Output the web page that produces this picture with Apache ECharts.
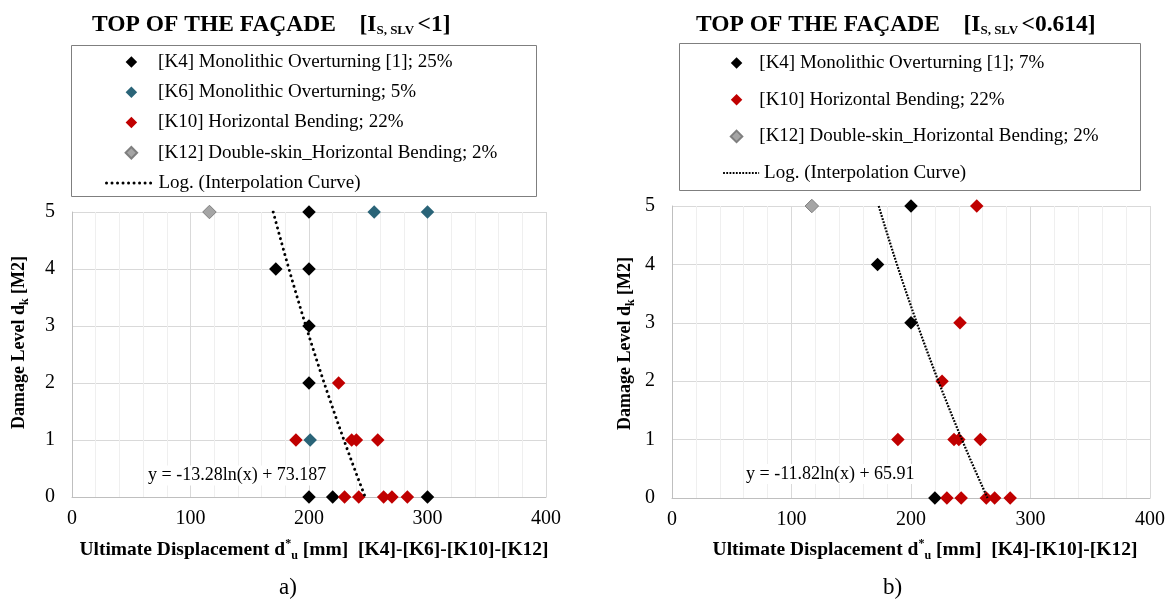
<!DOCTYPE html>
<html><head><meta charset="utf-8">
<script src="https://cdn.jsdelivr.net/npm/echarts@6/dist/echarts.min.js"></script>
<style>html,body{margin:0;padding:0;background:#fff}#c{width:1168px;height:603px}</style>
</head><body><div id="c"></div>
<script>
// ---------- DATA ----------
const xTicks = [0, 100, 200, 300, 400];
const yTicks = [0, 1, 2, 3, 4, 5];

// chart a)  [x = ultimate displacement mm, y = damage level]
const aK4  = [[200,5],[172,4],[200,4],[200,3],[200,2],[200,0],[220,0],[300,0]];
const aK6  = [[255,5],[300,5],[201,1]];
const aK10 = [[225,2],[189,1],[236,1],[240,1],[258,1],[230,0],[242,0],[263,0],[270,0],[283,0]];
const aK12 = [[116,5]];
const aTrendCoef = [-13.28, 73.187];   // y = a ln(x) + b

// chart b)
const bK4  = [[200,5],[172,4],[200,3],[220,0]];
const bK10 = [[255,5],[241,3],[226,2],[189,1],[236,1],[240,1],[258,1],[230,0],[242,0],[263,0],[270,0],[283,0]];
const bK12 = [[117,5]];
const bTrendCoef = [-11.82, 65.91];

const nK4a  = '[K4] Monolithic Overturning [1]; 25%';
const nK6a  = '[K6] Monolithic Overturning; 5%';
const nK10  = '[K10] Horizontal Bending; 22%';
const nK12  = '[K12] Double-skin_Horizontal Bending; 2%';
const nK4b  = '[K4] Monolithic Overturning [1]; 7%';
const nTrendA = 'Log. (Interpolation Curve)';
const nTrendB = 'Log. (Interpolation Curve) ';

// ---------- HELPERS ----------
const FONT = '"Liberation Serif","Times New Roman",serif';
const C_K4 = '#000000', C_K6 = '#2a6478', C_K10 = '#c00000', C_K12 = '#a5a5a5';

function trendPoints(coef) {
  const [a, b] = coef;
  const yMin = yTicks[0], yMax = yTicks[yTicks.length - 1];
  const pts = [];
  const n = 60;
  for (let i = 0; i <= n; i++) {
    const y = yMax - (yMax - yMin) * i / n;
    pts.push([Math.exp((y - b) / a), y]);
  }
  return pts;
}
function eqText(coef) { return 'y = ' + coef[0] + 'ln(x) + ' + coef[1]; }

const richBold = (fs) => ({
  n:   {fontFamily: FONT, fontWeight: 'bold', fontSize: fs, color: '#000', lineHeight: 24},
  sup: {fontFamily: FONT, fontWeight: 'bold', fontSize: 12, color: '#000', lineHeight: 12, verticalAlign: 'top'},
  sub: {fontFamily: FONT, fontWeight: 'bold', fontSize: 12, color: '#000', lineHeight: 12, verticalAlign: 'bottom'}
});

function xAxisCfg(gi, name, padLeft, gap) {
  return {
    type: 'value', gridIndex: gi, min: xTicks[0], max: xTicks[xTicks.length - 1], interval: xTicks[1] - xTicks[0],
    name: name, nameLocation: 'middle', nameGap: gap,
    nameTextStyle: {fontFamily: FONT, fontWeight: 'bold', fontSize: 19.5, color: '#000', lineHeight: 24,
      padding: [0, 0, 0, padLeft], rich: richBold(19.5)},
    axisLine: {show: true, lineStyle: {color: '#bfbfbf', width: 1}},
    axisTick: {show: false},
    axisLabel: {fontFamily: FONT, fontSize: 20, color: '#000', margin: 12},
    splitLine: {show: true, lineStyle: {color: '#d9d9d9', width: 1}},
    minorTick: {show: false, splitNumber: 5},
    minorSplitLine: {show: true, lineStyle: {color: '#efefef', width: 1}}
  };
}
function yAxisCfg(gi, gap, padLeft) {
  return {
    type: 'value', gridIndex: gi, min: yTicks[0], max: yTicks[yTicks.length - 1], interval: yTicks[1] - yTicks[0],
    name: 'Damage Level d{sub|k} [M2]', nameLocation: 'middle', nameGap: gap, nameRotate: 90,
    nameTextStyle: {fontFamily: FONT, fontWeight: 'bold', fontSize: 18, color: '#000', lineHeight: 24,
      padding: [0, 0, 0, padLeft], rich: richBold(18)},
    axisLine: {show: true, lineStyle: {color: '#bfbfbf', width: 1}},
    axisTick: {show: false},
    axisLabel: {fontFamily: FONT, fontSize: 20, color: '#000', margin: 17},
    splitLine: {show: true, lineStyle: {color: '#d9d9d9', width: 1}}
  };
}
function scatter(name, data, color, gi, border) {
  return {
    type: 'scatter', name: name, data: data, xAxisIndex: gi, yAxisIndex: gi,
    symbol: 'diamond', symbolSize: 13.5,
    itemStyle: {color: color, opacity: 1, borderColor: border || color, borderWidth: border ? 1 : 0},
    emphasis: {disabled: true}, z: 3
  };
}
function trend(name, coef, gi, lineStyle) {
  return {
    type: 'line', name: name, data: trendPoints(coef), xAxisIndex: gi, yAxisIndex: gi,
    symbol: 'none', showSymbol: false, smooth: false, silent: true,
    lineStyle: lineStyle, itemStyle: {color: '#000'}, z: 4
  };
}
const legendText = (pad) => ({fontFamily: FONT, fontSize: 19, color: '#000', lineHeight: 20, padding: [0, 0, 0, pad]});
const lsA = {color: '#000', width: 3, type: [0.01, 5.5], cap: 'round'};
const lsB = {color: '#000', width: 2.2, type: [1.8, 1.4], cap: 'butt'};

const titleRich = {
  b: {fontFamily: FONT, fontWeight: 'bold', fontSize: 23.5, color: '#000', lineHeight: 28, verticalAlign: 'bottom'},
  s: {fontFamily: FONT, fontWeight: 'bold', fontSize: 13, color: '#000', lineHeight: 13, verticalAlign: 'bottom'}
};

const option = {
  backgroundColor: '#fff',
  animation: false,
  title: [
    {text: '{b|TOP OF THE FAÇADE    [I}{s|S, SLV }{b|<1]}', left: 92, top: 9, padding: 0, textStyle: {rich: titleRich}},
    {text: '{b|TOP OF THE FAÇADE    [I}{s|S, SLV }{b|<0.614]}', left: 696, top: 9, padding: 0, textStyle: {rich: titleRich}},
    {text: 'a)', left: 279, top: 575, padding: 0, textStyle: {fontFamily: FONT, fontWeight: 'normal', fontSize: 23, color: '#000', lineHeight: 26}},
    {text: 'b)', left: 883, top: 575, padding: 0, textStyle: {fontFamily: FONT, fontWeight: 'normal', fontSize: 23, color: '#000', lineHeight: 26}}
  ],
  grid: [
    {left: 72, top: 212, width: 474, height: 285, containLabel: false},
    {left: 672, top: 206, width: 478, height: 292, containLabel: false}
  ],
  xAxis: [
    xAxisCfg(0, 'Ultimate Displacement d{sup|*}{sub|u} [mm]  [K4]-[K6]-[K10]-[K12]', 10, 41),
    xAxisCfg(1, 'Ultimate Displacement d{sup|*}{sub|u} [mm]  [K4]-[K10]-[K12]', 28, 40)
  ],
  yAxis: [yAxisCfg(0, 41, 24), yAxisCfg(1, 35, 17)],
  legend: [
    {orient: 'vertical', left: 124.6, top: 52, padding: 0, itemWidth: 11.5, itemHeight: 11.5, itemGap: 10.25,
     selectedMode: false, textStyle: legendText(16), data: [nK4a, nK6a, nK10, nK12]},
    {orient: 'vertical', left: 105, top: 173, padding: 0, itemWidth: 47, itemHeight: 11.5, itemGap: 0,
     selectedMode: false, textStyle: legendText(0), lineStyle: lsA, itemStyle: {opacity: 0}, data: [nTrendA]},
    {orient: 'vertical', left: 729.8, top: 53, padding: 0, itemWidth: 11.5, itemHeight: 11.5, itemGap: 16.7,
     selectedMode: false, textStyle: legendText(12), data: [nK4b, nK10, nK12]},
    {orient: 'vertical', left: 722, top: 163, padding: 0, itemWidth: 36, itemHeight: 11.5, itemGap: 0,
     selectedMode: false, textStyle: legendText(0), lineStyle: lsB, itemStyle: {opacity: 0}, data: [nTrendB]}
  ],
  graphic: [
    {type: 'rect', silent: true, z: 0, shape: {x: 71.5, y: 45.5, width: 465, height: 151}, style: {fill: 'none', stroke: '#7f7f7f', lineWidth: 1}},
    {type: 'rect', silent: true, z: 0, shape: {x: 679.5, y: 43.5, width: 461, height: 147}, style: {fill: 'none', stroke: '#7f7f7f', lineWidth: 1}},
    {type: 'text', silent: true, z: 1, x: 146, y: 475.5, style: {text: eqText(aTrendCoef), font: '18px "Liberation Serif"', fill: '#000', verticalAlign: 'middle', backgroundColor: '#fff', padding: [1, 2]}},
    {type: 'text', silent: true, z: 1, x: 744, y: 474, style: {text: eqText(bTrendCoef), font: '18px "Liberation Serif"', fill: '#000', verticalAlign: 'middle', backgroundColor: '#fff', padding: [1, 2]}}
  ],
  series: [
    scatter(nK4a, aK4, C_K4, 0),
    scatter(nK6a, aK6, C_K6, 0),
    scatter(nK10, aK10, C_K10, 0),
    scatter(nK12, aK12, C_K12, 0, '#7f7f7f'),
    trend(nTrendA, aTrendCoef, 0, lsA),
    scatter(nK4b, bK4, C_K4, 1),
    scatter(nK10, bK10, C_K10, 1),
    scatter(nK12, bK12, C_K12, 1, '#7f7f7f'),
    trend(nTrendB, bTrendCoef, 1, lsB)
  ]
};
const chart = echarts.init(document.getElementById('c'), null, {renderer: 'canvas'});
chart.setOption(option);
</script></body></html>
